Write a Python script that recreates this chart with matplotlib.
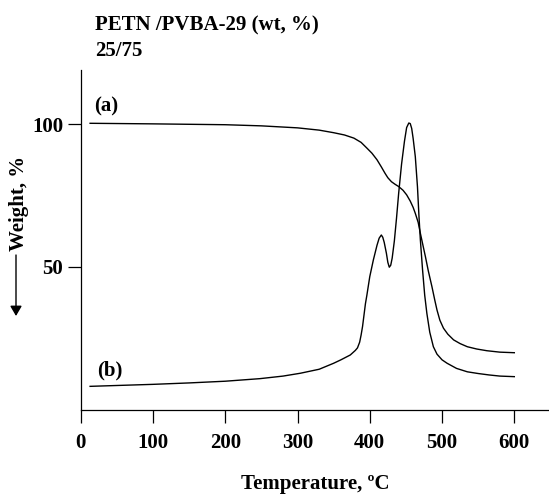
import matplotlib
matplotlib.use("Agg")
import matplotlib.pyplot as plt

# Curve (a): TGA weight loss
temp_a = [13, 100, 200, 250, 300, 330, 350, 365, 378, 388, 396, 403, 410, 416,
          421, 425, 430, 435, 440, 446, 451, 456, 460, 463, 467, 470, 474, 477,
          481, 486, 490, 493, 497, 502, 508, 516, 525, 535, 548, 562, 580, 600]
weight_a = [100.3, 100.1, 99.8, 99.4, 98.7, 97.9, 97.0, 96.2, 95.1, 93.6, 91.6,
            89.8, 87.5, 85.0, 82.8, 81.2, 79.8, 78.9, 78.1, 76.8, 75.2, 73.0,
            70.8, 68.7, 65.5, 61.7, 57.0, 53.5, 48.5, 43.0, 38.2, 34.8, 31.2,
            28.4, 26.3, 24.3, 23.0, 21.9, 21.1, 20.5, 20.0, 19.8]

# Curve (b): DTG
temp_b = [13, 50, 100, 150, 200, 248, 280, 304, 330, 350, 360, 373, 380, 383,
          386, 388, 390, 392, 394, 396, 400, 405, 410, 413, 416, 418, 420, 423,
          425, 427, 429, 431, 434, 437, 440, 444, 448, 451, 454, 456, 458, 460,
          463, 466, 468, 470, 473, 476, 479, 483, 488, 493, 500, 507, 520, 535,
          550, 565, 580, 600]
signal_b = [8.0, 8.3, 8.7, 9.2, 9.8, 10.7, 11.6, 12.6, 14.0, 16.1, 17.3, 19.0,
            20.6, 21.5, 23.5, 26.0, 29.0, 33.0, 37.0, 40.0, 46.5, 52.4, 57.5,
            60.0, 61.1, 60.3, 58.5, 54.7, 51.5, 49.8, 50.5, 53.0, 59.0, 67.0,
            75.8, 86.0, 94.0, 98.8, 100.4, 100.2, 98.5, 95.0, 88.6, 78.0, 68.0,
            59.4, 49.0, 40.0, 33.6, 27.0, 21.9, 19.3, 17.3, 16.1, 14.3, 13.1,
            12.5, 12.0, 11.6, 11.4]

xticks = [0, 100, 200, 300, 400, 500, 600]
yticks = [50, 100]

FONT = "Liberation Serif"
W, H = 549, 495
fig = plt.figure(figsize=(W / 100, H / 100), dpi=100)
ax = fig.add_axes([80.7 / W, (H - 410) / H, (W - 80.7) / W, (410 - 70) / H])

ax.plot(temp_a, weight_a, color="black", lw=1.0)
ax.plot(temp_b, signal_b, color="black", lw=1.0)

ax.set_xlim(0, 648)
ax.set_ylim(-0.3, 119)
ax.set_xticks(xticks)
ax.set_yticks(yticks)
ax.set_xticklabels([str(t) for t in xticks], fontfamily=FONT, fontweight="bold", fontsize=15)
ax.set_yticklabels([str(t) for t in yticks], fontfamily=FONT, fontweight="bold", fontsize=15)
ax.tick_params(axis="x", direction="out", length=9.5, width=0.9, pad=7)
ax.tick_params(axis="y", direction="out", length=9.5, width=0.9, pad=3)
for s in ["top", "right"]:
    ax.spines[s].set_visible(False)
for s in ["left", "bottom"]:
    ax.spines[s].set_linewidth(0.9)

ax.text(35, 106.3, "(a)", fontfamily=FONT, fontweight="bold", fontsize=15,
        ha="center", va="center")
ax.text(40, 13.4, "(b)", fontfamily=FONT, fontweight="bold", fontsize=15,
        ha="center", va="center")

fig.text(95 / W, 1 - 30 / H, "PETN /PVBA-29 (wt, %)", fontfamily=FONT,
         fontweight="bold", fontsize=15, ha="left", va="baseline")
fig.text(95 / W, 1 - 56 / H, "25/75", fontfamily=FONT,
         fontweight="bold", fontsize=15, ha="left", va="baseline")
fig.text(315 / W, 1 - 484 / H, "Temperature, \u00baC", fontfamily=FONT,
         fontweight="bold", fontsize=15, ha="center", va="center")
fig.text(19 / W, 1 - 203 / H, "Weight, %", fontfamily=FONT, fontweight="bold",
         fontsize=15, ha="center", va="center", rotation=90)
fig.patches.append(matplotlib.patches.FancyArrowPatch(
    (16 / W, 1 - 255 / H), (16 / W, 1 - 316 / H), transform=fig.transFigure,
    arrowstyle="-|>,head_length=6,head_width=3.5", color="black", lw=1.0,
    shrinkA=0, shrinkB=0))

fig.savefig("out.png", dpi=100)
